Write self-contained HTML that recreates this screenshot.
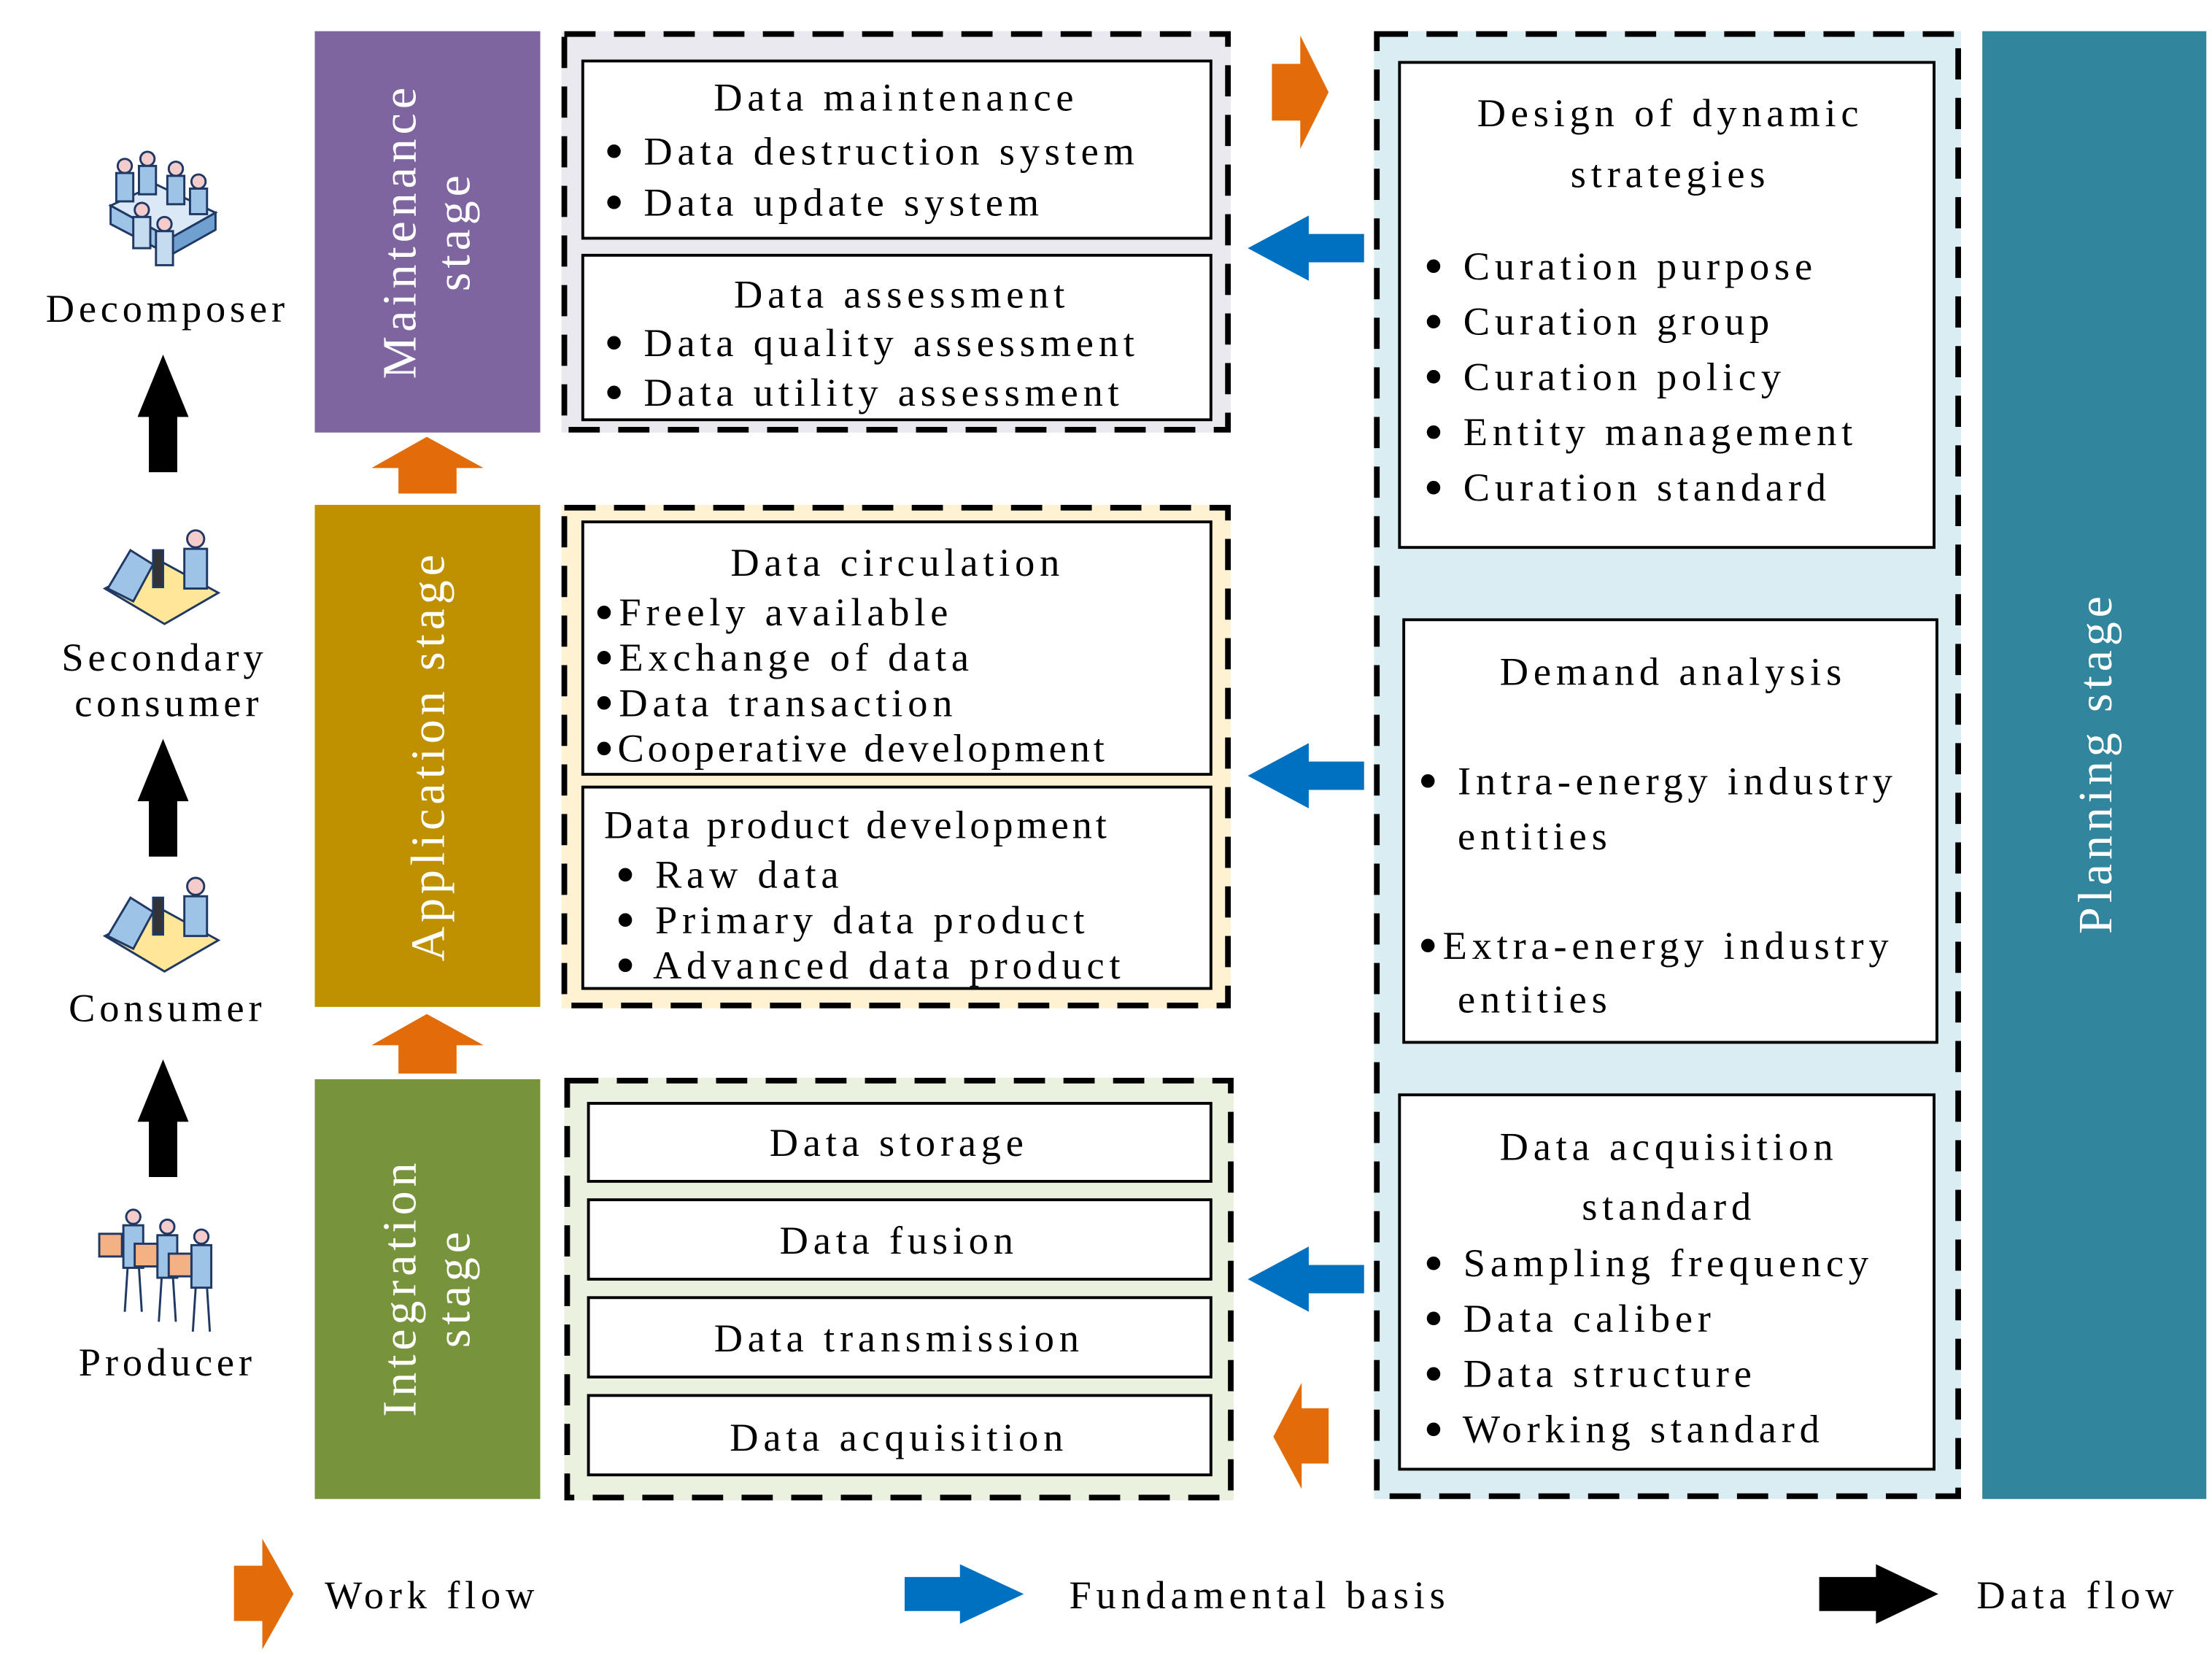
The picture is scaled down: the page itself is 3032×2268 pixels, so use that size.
<!DOCTYPE html>
<html><head><meta charset="utf-8"><style>
html,body{margin:0;padding:0;background:#fff;}
svg{display:block;}
text{font-family:"Liberation Serif",serif;fill:#000;}
</style></head><body>
<svg width="3032" height="2268" viewBox="0 0 1560 1167" preserveAspectRatio="none" xmlns="http://www.w3.org/2000/svg">
<rect x="222" y="22" width="159" height="283" fill="#7f659f"/>
<rect x="222" y="356" width="159" height="354" fill="#bf9000"/>
<rect x="222" y="761" width="159" height="296" fill="#77933c"/>
<rect x="1398" y="22" width="158" height="1035" fill="#31859c"/>
<rect x="396" y="22" width="472" height="283" fill="#ebe9f0"/>
<rect x="396" y="356" width="472" height="355" fill="#fff2d2"/>
<rect x="398" y="760" width="472" height="298" fill="#ebf1df"/>
<rect x="969" y="22" width="414" height="1035" fill="#daedf3"/>
<g fill="none" stroke="#000" stroke-width="4" stroke-dasharray="22 13">
<rect x="398" y="24" width="468" height="279"/>
<rect x="398" y="358" width="468" height="351"/>
<rect x="400" y="762" width="468" height="294"/>
<rect x="971" y="24" width="410" height="1031"/>
</g>
<g fill="#fff" stroke="#000" stroke-width="2">
<rect x="411" y="43" width="443" height="125"/>
<rect x="411" y="180" width="443" height="116"/>
<rect x="411" y="368" width="443" height="178"/>
<rect x="411" y="555" width="443" height="142"/>
<rect x="415" y="778" width="439" height="55"/>
<rect x="415" y="846" width="439" height="56"/>
<rect x="415" y="915" width="439" height="56"/>
<rect x="415" y="984" width="439" height="56"/>
<rect x="987" y="44" width="377" height="342"/>
<rect x="990" y="437" width="376" height="298"/>
<rect x="987" y="772" width="377" height="264"/>
</g>
<polygon points="262,330 301,308 341,330 322,330 322,348 281,348 281,330" fill="#e36c0a"/>
<polygon points="262,737 301,715 341,737 322,737 322,757 281,757 281,737" fill="#e36c0a"/>
<polygon points="897,45 917,45 917,25 937,65 917,105 917,85 897,85" fill="#e36c0a"/>
<polygon points="937,993 918,993 918,975 898,1013 918,1050 918,1032 937,1032" fill="#e36c0a"/>
<polygon points="962,165 923,165 923,152 880,175 923,198 923,185 962,185" fill="#0070c0"/>
<polygon points="962,537 923,537 923,524 880,547 923,570 923,557 962,557" fill="#0070c0"/>
<polygon points="962,892 923,892 923,879 880,902 923,925 923,912 962,912" fill="#0070c0"/>
<polygon points="97,294 115,250 133,294 125,294 125,333 105,333 105,294" fill="#000"/>
<polygon points="97,565 115,521 133,565 125,565 125,604 105,604 105,565" fill="#000"/>
<polygon points="97,791 115,747 133,791 125,791 125,830 105,830 105,791" fill="#000"/>
<polygon points="165,1104 185,1104 185,1085 207,1124 185,1163 185,1143 165,1143" fill="#e36c0a"/>
<polygon points="638,1112 677,1112 677,1103 722,1124 677,1145 677,1136 638,1136" fill="#0070c0"/>
<polygon points="1283,1112 1323,1112 1323,1103 1367,1124 1323,1145 1323,1136 1283,1136" fill="#000"/>

<g stroke="#1f3864" stroke-width="1.5">
 <polygon points="78,145 110,130 152,150 120,168" fill="#dbe8f5"/>
 <polygon points="78,145 120,168 120,180 78,158" fill="#9dc3e6"/>
 <polygon points="120,168 152,150 152,162 120,180" fill="#6fa0d0"/>
 <circle cx="88" cy="117" r="5" fill="#f4cccc"/><rect x="82" y="122" width="12" height="20" fill="#9dc3e6"/>
 <circle cx="104" cy="112" r="5" fill="#f4cccc"/><rect x="98" y="117" width="12" height="20" fill="#9dc3e6"/>
 <circle cx="124" cy="119" r="5" fill="#f4cccc"/><rect x="118" y="124" width="12" height="20" fill="#9dc3e6"/>
 <circle cx="140" cy="128" r="5" fill="#f4cccc"/><rect x="134" y="133" width="12" height="18" fill="#9dc3e6"/>
 <circle cx="100" cy="148" r="5" fill="#f4cccc"/><rect x="94" y="153" width="12" height="22" fill="#c5dcef"/>
 <circle cx="116" cy="158" r="5" fill="#f4cccc"/><rect x="110" y="163" width="12" height="24" fill="#c5dcef"/>
 <polygon points="74,415 112,395 154,418 116,440" fill="#ffe699"/>
 <polygon points="76,415 92,388 108,398 94,424" fill="#9dc3e6"/>
 <rect x="108" y="388" width="7" height="26" fill="#333"/>
 <circle cx="138" cy="380" r="6" fill="#f4cccc"/><rect x="130" y="387" width="16" height="28" fill="#9dc3e6"/>
 <polygon points="74,660 112,640 154,663 116,685" fill="#ffe699"/>
 <polygon points="76,660 92,633 108,643 94,669" fill="#9dc3e6"/>
 <rect x="108" y="633" width="7" height="26" fill="#333"/>
 <circle cx="138" cy="625" r="6" fill="#f4cccc"/><rect x="130" y="632" width="16" height="28" fill="#9dc3e6"/>
 <circle cx="94" cy="858" r="5" fill="#f4cccc"/><rect x="87" y="864" width="14" height="30" fill="#9dc3e6"/><rect x="70" y="870" width="16" height="16" fill="#f4b183"/>
 <circle cx="118" cy="865" r="5" fill="#f4cccc"/><rect x="111" y="871" width="14" height="30" fill="#9dc3e6"/><rect x="95" y="877" width="16" height="16" fill="#f4b183"/>
 <circle cx="142" cy="872" r="5" fill="#f4cccc"/><rect x="135" y="878" width="14" height="30" fill="#9dc3e6"/><rect x="119" y="884" width="16" height="16" fill="#f4b183"/>
 <line x1="90" y1="894" x2="88" y2="925"/><line x1="98" y1="894" x2="100" y2="925"/>
 <line x1="114" y1="901" x2="112" y2="932"/><line x1="122" y1="901" x2="124" y2="932"/>
 <line x1="138" y1="908" x2="136" y2="939"/><line x1="146" y1="908" x2="148" y2="939"/>
</g>

<g font-size="28" letter-spacing="3" text-anchor="middle">
<text x="118" y="227">Decomposer</text>
<text x="116" y="473">Secondary</text>
<text x="119" y="505">consumer</text>
<text x="118" y="720">Consumer</text>
<text x="118" y="970">Producer</text>
</g>

<g font-size="34" letter-spacing="3" text-anchor="middle">
<text transform="translate(301,163) rotate(-90)" style="fill:#fff"><tspan x="0" y="-8">Maintenance</tspan><tspan x="0" y="30">stage</tspan></text>
<text transform="translate(301,533) rotate(-90)" style="fill:#fff"><tspan x="0" y="12">Application stage</tspan></text>
<text transform="translate(301,908) rotate(-90)" style="fill:#fff"><tspan x="0" y="-8">Integration</tspan><tspan x="0" y="30">stage</tspan></text>
<text transform="translate(1477,538) rotate(-90)" style="fill:#fff"><tspan x="0" y="12">Planning stage</tspan></text>
</g>

<g font-size="28" letter-spacing="3.5">
<text x="632" y="78" text-anchor="middle">Data maintenance</text>
<text x="426" y="116"><tspan font-size="40" dy="4">•</tspan><tspan dy="-4"> Data destruction system</tspan></text>
<text x="426" y="152"><tspan font-size="40" dy="4">•</tspan><tspan dy="-4"> Data update system</tspan></text>
<text x="636" y="217" text-anchor="middle">Data assessment</text>
<text x="426" y="251"><tspan font-size="40" dy="4">•</tspan><tspan dy="-4"> Data quality assessment</tspan></text>
<text x="426" y="286"><tspan font-size="40" dy="4">•</tspan><tspan dy="-4"> Data utility assessment</tspan></text>

<text x="633" y="406" text-anchor="middle">Data circulation</text>
<text x="419" y="441"><tspan font-size="40" dy="4">•</tspan><tspan dy="-4">Freely available</tspan></text>
<text x="419" y="473"><tspan font-size="40" dy="4">•</tspan><tspan dy="-4">Exchange of data</tspan></text>
<text x="419" y="505"><tspan font-size="40" dy="4">•</tspan><tspan dy="-4">Data transaction</tspan></text>
<text x="419" y="537" letter-spacing="2.5"><tspan font-size="40" dy="4">•</tspan><tspan dy="-4">Cooperative development</tspan></text>
<text x="426" y="591" letter-spacing="2.5">Data product development</text>
<text x="434" y="626"><tspan font-size="40" dy="4">•</tspan><tspan dy="-4"> Raw data</tspan></text>
<text x="434" y="658"><tspan font-size="40" dy="4">•</tspan><tspan dy="-4"> Primary data product</tspan></text>
<text x="434" y="690"><tspan font-size="40" dy="4">•</tspan><tspan dy="-4"> Advanced data product</tspan></text>

<text x="634" y="815" text-anchor="middle">Data storage</text>
<text x="634" y="884" text-anchor="middle">Data fusion</text>
<text x="634" y="953" text-anchor="middle">Data transmission</text>
<text x="634" y="1023" text-anchor="middle">Data acquisition</text>

<text x="1178" y="89" text-anchor="middle">Design of dynamic</text>
<text x="1178" y="132" text-anchor="middle">strategies</text>
<text x="1004" y="197"><tspan font-size="40" dy="4">•</tspan><tspan dy="-4"> Curation purpose</tspan></text>
<text x="1004" y="236"><tspan font-size="40" dy="4">•</tspan><tspan dy="-4"> Curation group</tspan></text>
<text x="1004" y="275"><tspan font-size="40" dy="4">•</tspan><tspan dy="-4"> Curation policy</tspan></text>
<text x="1004" y="314"><tspan font-size="40" dy="4">•</tspan><tspan dy="-4"> Entity management</tspan></text>
<text x="1004" y="353"><tspan font-size="40" dy="4">•</tspan><tspan dy="-4"> Curation standard</tspan></text>

<text x="1180" y="483" text-anchor="middle">Demand analysis</text>
<text x="1000" y="560"><tspan font-size="40" dy="4">•</tspan><tspan dy="-4"> Intra-energy industry</tspan></text>
<text x="1028" y="599">entities</text>
<text x="1000" y="676"><tspan font-size="40" dy="4">•</tspan><tspan dy="-4">Extra-energy industry</tspan></text>
<text x="1028" y="714">entities</text>

<text x="1177" y="818" text-anchor="middle">Data acquisition</text>
<text x="1177" y="860" text-anchor="middle">standard</text>
<text x="1004" y="900"><tspan font-size="40" dy="4">•</tspan><tspan dy="-4"> Sampling frequency</tspan></text>
<text x="1004" y="939"><tspan font-size="40" dy="4">•</tspan><tspan dy="-4"> Data caliber</tspan></text>
<text x="1004" y="978"><tspan font-size="40" dy="4">•</tspan><tspan dy="-4"> Data structure</tspan></text>
<text x="1004" y="1017"><tspan font-size="40" dy="4">•</tspan><tspan dy="-4"> Working standard</tspan></text>

<text x="229" y="1134">Work flow</text>
<text x="754" y="1134">Fundamental basis</text>
<text x="1394" y="1134">Data flow</text>
</g>
</svg>
</body></html>
